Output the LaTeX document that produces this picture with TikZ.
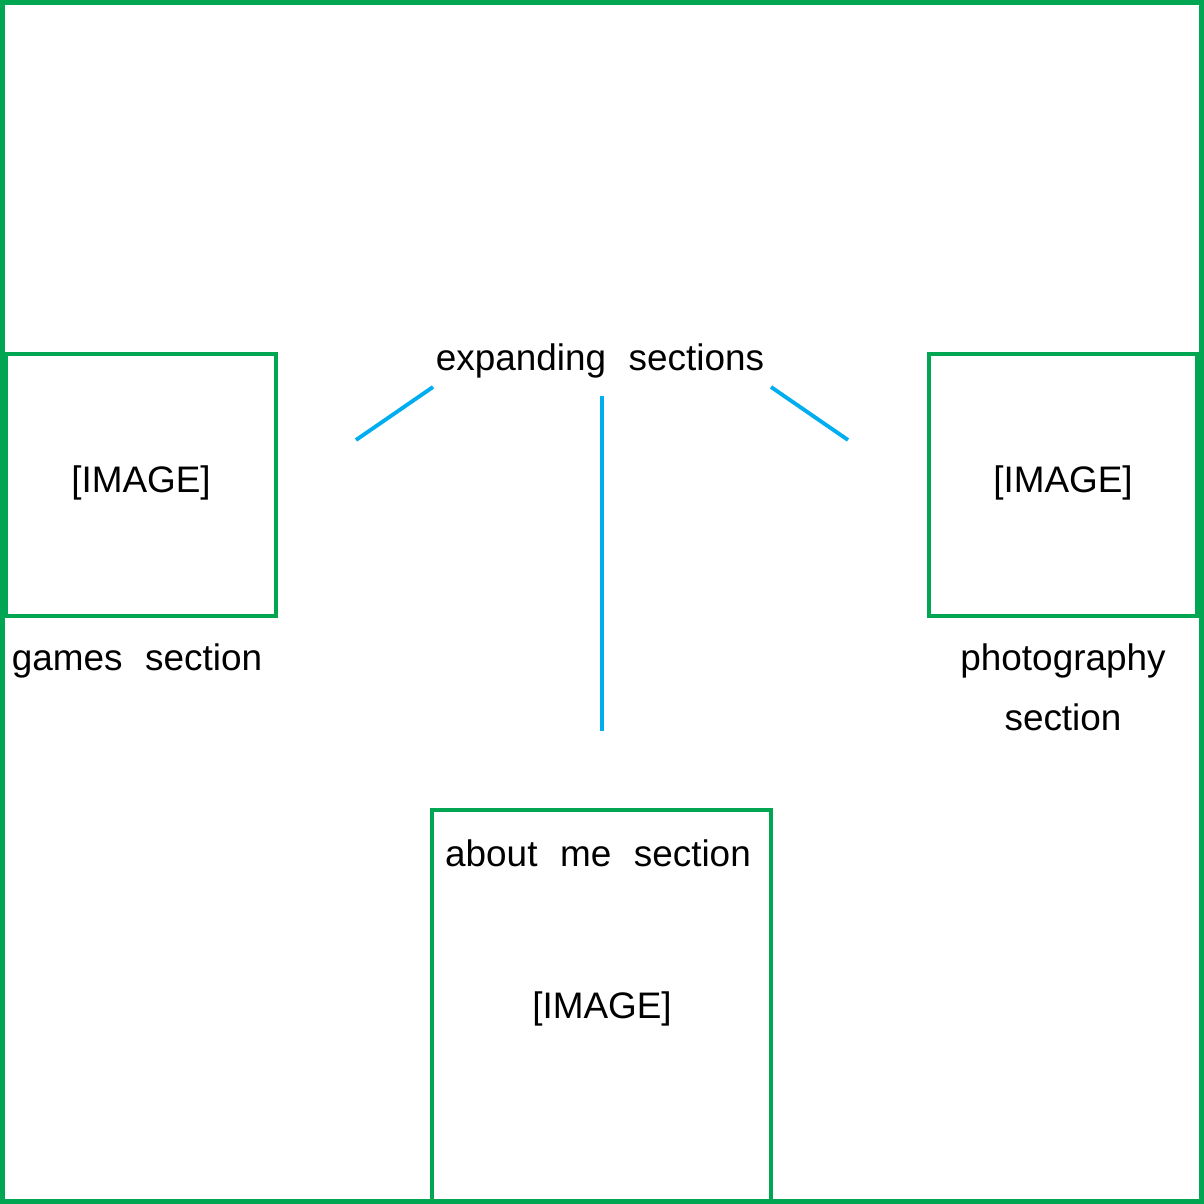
\documentclass[tikz,border=0pt]{standalone}
\usepackage{fontspec}
\setmainfont[WordSpace=2.2]{Liberation Sans}
\usetikzlibrary{calc}
\usepackage{xcolor}
\definecolor{pagegreen}{RGB}{0,166,81}
\definecolor{linkblue}{RGB}{0,174,239}

\begin{document}
\begin{tikzpicture}[
    frame/.style={draw=pagegreen,line width=1.1pt},
    link/.style={draw=linkblue,line width=1.1pt},
    label/.style={font=\fontsize{10.5}{17}\selectfont,inner sep=0pt,align=center}
  ]
    \useasboundingbox (0,0) rectangle (12.04,12.04);

    % Outer page. Frame is 1204px.
    \path[draw=pagegreen,line width=1.5pt] (0.025,0.025) rectangle (12.015,12.015);

    % games section, left
    \path[frame] (0.06,8.50) -- ++(2.70,0) -- ++(0,-2.62) -- ++(-2.70,0) -- cycle;
    \node[label] (gamesimg) at (1.41,7.21) {[IMAGE]};
    \node[label] (games) at (1.37,5.43) {games section};

    % photography section, right
    \path[frame] (9.29,8.50) -- ++(2.68,0) -- ++(0,-2.62) -- ++(-2.68,0) -- cycle;
    \node[label] (photoimg) at (10.63,7.21) {[IMAGE]};
    \node[label,anchor=north] (photo) at (10.63,5.61) {photography\\section};

    % about me section, bottom
    \path[frame] (4.32,0.02) -- ++(0,3.92) -- ++(3.39,0) -- ++(0,-3.92);
    \node[label] (about) at (5.98,3.51) {about me section};
    \node[label] (aboutimg) at (6.02,1.95) {[IMAGE]};

    % expanding sections
    \node[label] (expand) at (6.00,8.43) {expanding sections};
    \coordinate (lefttop) at (4.33,8.17);
    \coordinate (leftend) at (3.56,7.64);
    \coordinate (midtop) at (6.02,8.08);
    \coordinate (midend) at (6.02,4.73);
    \coordinate (righttop) at (7.71,8.17);
    \coordinate (rightend) at (8.48,7.64);
    \path[link] (lefttop) -- (leftend);
    \path[link] (midtop) -- (midend);
    \path[link] (righttop) -- (rightend);

\end{tikzpicture}
\end{document}
